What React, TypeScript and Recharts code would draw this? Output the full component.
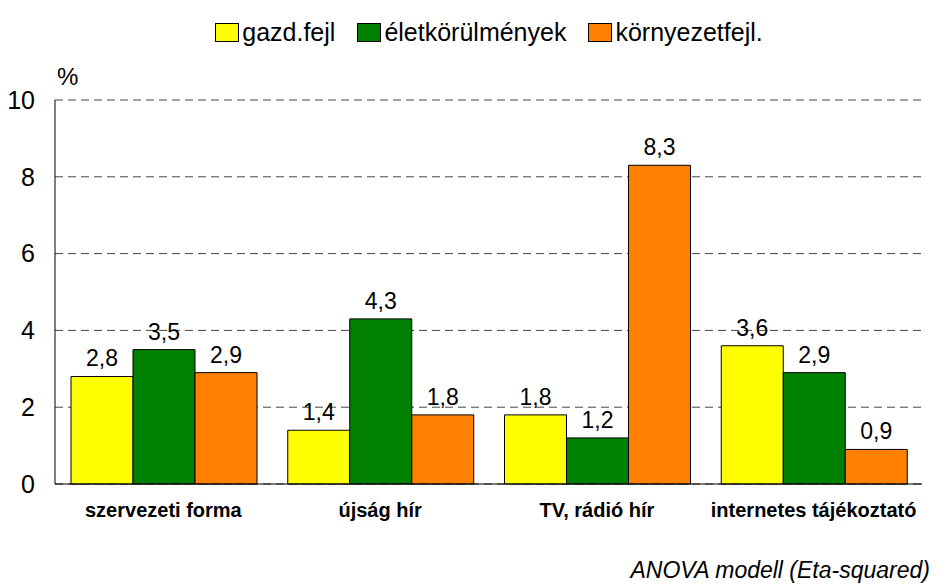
import { Bar, BarChart, CartesianGrid, LabelList, XAxis, YAxis } from 'recharts';

const categories = ['szervezeti forma', 'újság hír', 'TV, rádió hír', 'internetes tájékoztató'];
const gazdFejl = [2.8, 1.4, 1.8, 3.6];
const eletkorulmenyek = [3.5, 4.3, 1.2, 2.9];
const kornyezetFejl = [2.9, 1.8, 8.3, 0.9];
const yTicks = [0, 2, 4, 6, 8, 10];

const series = [
  { key: 'gazd', name: 'gazd.fejl', color: '#FFFF00' },
  { key: 'elet', name: 'életkörülmények', color: '#008000' },
  { key: 'korny', name: 'környezetfejl.', color: '#FF8000' },
] as const;

const data = categories.map((name, i) => ({
  name,
  gazd: gazdFejl[i],
  elet: eletkorulmenyek[i],
  korny: kornyezetFejl[i],
}));

const font = '"Liberation Sans", Arial, sans-serif';
const fmt = (v: unknown) => String(v).replace('.', ',');

function LegendBox() {
  return (
    <div style={{ position: 'absolute', left: 40, top: 16, width: 898, display: 'flex', justifyContent: 'center', gap: 22, fontFamily: font, fontSize: 25, color: '#000', lineHeight: '32px' }}>
      {series.map((s) => (
        <div key={s.key} style={{ display: 'flex', alignItems: 'center' }}>
          <span style={{ width: 24, height: 19, background: s.color, border: '1px solid #000', marginRight: 3, boxSizing: 'border-box' }} />
          <span>{s.name}</span>
        </div>
      ))}
    </div>
  );
}

export default function App() {
  return (
    <div style={{ position: 'absolute', left: 0, top: 0, width: 938, height: 585, background: '#fff', fontFamily: font }}>
      <BarChart
        width={938}
        height={585}
        data={data}
        margin={{ top: 100, right: 16, left: 10, bottom: 71 }}
        barCategoryGap={16}
        barGap={0}
      >
        <CartesianGrid vertical={false} stroke="#444" strokeDasharray="8 5" />
        <XAxis
          dataKey="name"
          stroke="#000"
          axisLine
          tickLine={false}
          tickMargin={13}
          tick={{ fontSize: 20, fontWeight: 'bold', fill: '#000', fontFamily: font }}
          height={30}
          interval={0}
        />
        <YAxis
          domain={[0, 10]}
          ticks={yTicks}
          width={45}
          stroke="#000"
          axisLine
          tickLine={false}
          tickMargin={14}
          tick={{ fontSize: 25, fill: '#000', fontFamily: font }}
          interval={0}
        />
        <YAxis yAxisId="r" orientation="right" width={0} stroke="#000" axisLine tick={false} tickLine={false} domain={[0, 10]} />
        {series.map((s) => (
          <Bar key={s.key} dataKey={s.key} name={s.name} fill={s.color} stroke="#000" strokeWidth={1} isAnimationActive={false}>
            <LabelList dataKey={s.key} position="top" offset={10} formatter={fmt} style={{ fontSize: 23, fill: '#000', fontFamily: font }} />
          </Bar>
        ))}
      </BarChart>
      <LegendBox />
      <div style={{ position: 'absolute', left: 57, top: 63, fontSize: 24 }}>%</div>
      <div style={{ position: 'absolute', right: 8, top: 557, fontSize: 23, fontStyle: 'italic' }}>ANOVA modell (Eta-squared)</div>
    </div>
  );
}
